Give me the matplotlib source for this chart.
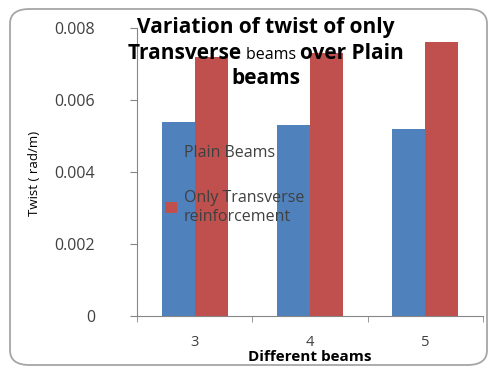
import numpy as np
import matplotlib.pyplot as plt
from matplotlib.patches import FancyBboxPatch

# twist values (rad/m) for the three beams
beams = ["3", "4", "5"]
plain = [0.0054, 0.0053, 0.0052]
transverse = [0.0072, 0.0073, 0.0076]
y_ticks = [0, 0.002, 0.004, 0.006, 0.008]
y_tick_labels = ["0", "0.002", "0.004", "0.006", "0.008"]

blue = "#4F81BD"
red = "#C0504D"
axis_grey = "#868686"
text_grey = "#404040"

plt.rcParams["font.family"] = ["Open Sans", "DejaVu Sans"]

fig = plt.figure(figsize=(4.89, 3.67), dpi=100)
W, H = 489, 367

# rounded chart-area border
fig.patches.append(FancyBboxPatch((10 / W, 2 / H), 477 / W, 356 / H,
                                  boxstyle="round,pad=0,rounding_size=0.04",
                                  transform=fig.transFigure, fill=False,
                                  edgecolor="#A6A6A6", linewidth=1.3,
                                  zorder=0))

ax = fig.add_axes([137 / W, 1 - 316 / H, 346 / W, 288 / H])
x = np.arange(len(beams))
w = 0.285
ax.bar(x - w / 2, plain, w, color=blue, label="Plain Beams", zorder=2)
ax.bar(x + w / 2, transverse, w, color=red,
       label="Only Transverse\nreinforcement", zorder=2)

ax.set_xlim(-0.5, 2.5)
ax.set_ylim(0, 0.008)
ax.set_yticks(y_ticks)
ax.set_yticklabels(y_tick_labels)
ax.set_xticks(x)
ax.set_xticklabels(beams)
ax.set_xticks([-0.5, 0.5, 1.5, 2.5], minor=True)
ax.tick_params(axis="x", which="major", length=0, pad=14, labelsize=10.5,
               labelcolor=text_grey)
ax.tick_params(axis="x", which="minor", length=4, direction="out",
               color=axis_grey)
ax.tick_params(axis="y", length=5, direction="out", color=axis_grey,
               pad=25, labelsize=11.5, labelcolor=text_grey)

for s in ["top", "right"]:
    ax.spines[s].set_visible(False)
for s in ["left", "bottom"]:
    ax.spines[s].set_color(axis_grey)

ax.set_xlabel("Different beams", fontsize=11, fontweight="bold",
              color="black")
ax.xaxis.set_label_coords(0.5, (316 - 350) / 288)
fig.text(35 / W, 1 - 173 / H, "Twist ( rad/m)", rotation=90, ha="center",
         va="center", fontsize=9.5, color="black")

ax.legend(loc="upper left", bbox_to_anchor=(151 / W, 1 - 131 / H),
          bbox_transform=fig.transFigure, frameon=False, fontsize=11.5,
          handlelength=0.7, handleheight=0.7, handletextpad=0.45,
          labelspacing=1.8, labelcolor=text_grey)

# title, with a smaller "beams" in the second line
fig.text(266 / W, 1 - 27 / H, "Variation of twist of only", ha="center",
         va="center", fontsize=15, fontweight="bold", zorder=5)
fig.text(266 / W, 1 - 78 / H, "beams", ha="center", va="center",
         fontsize=15, fontweight="bold", zorder=5)

parts = [("Transverse ", 15, "bold"), ("beams ", 11.5, "normal"),
         ("over Plain", 15, "bold")]
r = fig.canvas.get_renderer()
objs = []
for s, fs, fw in parts:
    t = fig.text(0, 0, s, ha="left", va="baseline", fontsize=fs,
                 fontweight=fw, zorder=5)
    objs.append(t)
widths = [t.get_window_extent(r).width for t in objs]
xpos = 266 - sum(widths) / 2
for t, wd in zip(objs, widths):
    t.set_position((xpos / W, 1 - 59 / H))
    xpos += wd

fig.savefig("out.png", dpi=100)
